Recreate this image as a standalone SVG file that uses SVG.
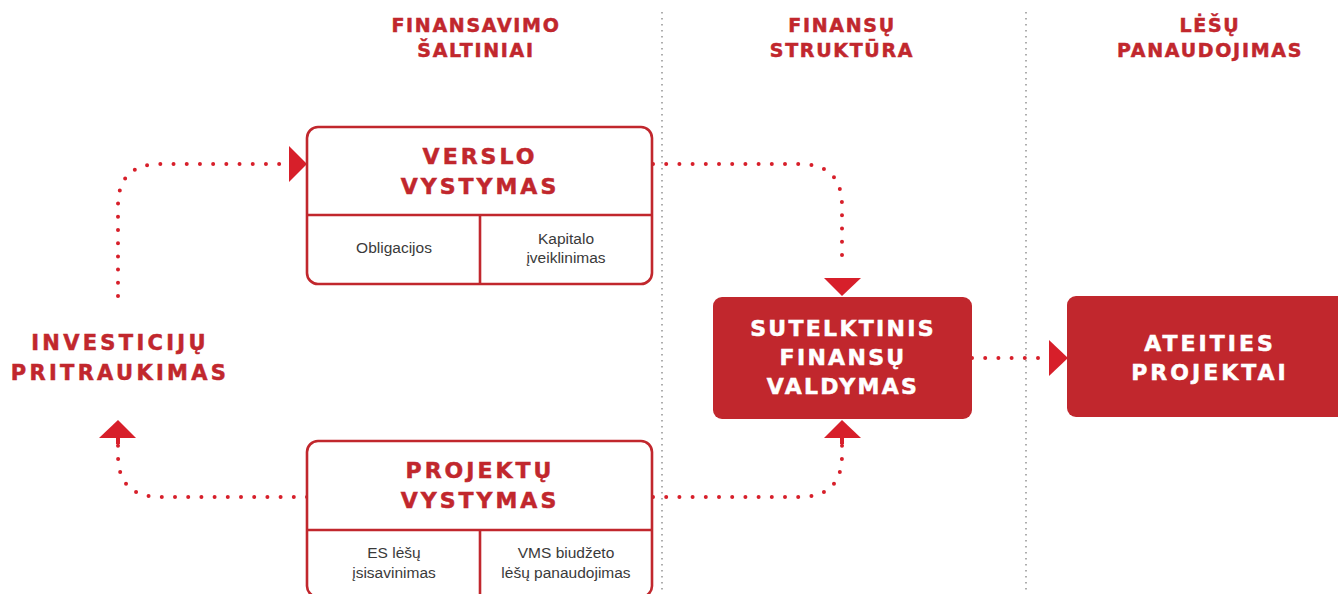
<svg xmlns="http://www.w3.org/2000/svg" width="1338" height="594" viewBox="0 0 1338 594">
<style>
.hd{font-family:"DejaVu Sans","Liberation Sans",sans-serif;font-weight:bold;fill:#c1272d;stroke:#c1272d;stroke-width:0.5;text-anchor:middle}
.h1{font-size:19px;letter-spacing:1.7px}
.bt{font-size:22px;letter-spacing:3px}
.wt{fill:#ffffff;stroke:#ffffff}
.sm{font-family:"Liberation Sans",Arial,sans-serif;font-size:15.5px;fill:#3a3a3a;text-anchor:middle}
.box{fill:#ffffff;stroke:#c1272d;stroke-width:2.6}
.div{stroke:#c1272d;stroke-width:2.6;fill:none}
.solid{fill:#c1272d}
.grid{stroke:#9a9a9a;stroke-width:1.6;stroke-dasharray:1.6 4.4;fill:none}
.dot{fill:none;stroke:#d71f2a;stroke-width:4;stroke-linecap:round;stroke-dasharray:0 13.2}
.ah{fill:#d71f2a}
</style>
<g id="grid">
<line class="grid" x1="662" y1="12" x2="662" y2="594"/>
<line class="grid" x1="1026" y1="12" x2="1026" y2="594"/>
</g>
<g id="headers">
<text class="hd h1" x="476" y="32">FINANSAVIMO</text>
<text class="hd h1" x="476" y="57">ŠALTINIAI</text>
<text class="hd h1" x="842" y="32">FINANSŲ</text>
<text class="hd h1" x="842" y="57">STRUKTŪRA</text>
<text class="hd h1" x="1210" y="32">LĖŠŲ</text>
<text class="hd h1" x="1210" y="57">PANAUDOJIMAS</text>
</g>
<g id="connectors">
<path class="dot" d="M118,296 V206 Q118,164 160,164 H286"/>
<polygon class="ah" points="289,146 307,164 289,182"/>
<path class="dot" d="M653,164 H800 Q842,164 842,206 V268"/>
<polygon class="ah" points="824,278 861,278 842,296"/>
<path class="dot" d="M307,497 H160 Q118,497 118,455 V444"/>
<line x1="118" y1="436" x2="118" y2="444" stroke="#d71f2a" stroke-width="4"/>
<polygon class="ah" points="99,438 136,438 118,420"/>
<path class="dot" d="M653,497 H800 Q842,497 842,455 V444"/>
<line x1="842" y1="436" x2="842" y2="444" stroke="#d71f2a" stroke-width="4"/>
<polygon class="ah" points="824,438 861,438 842,420"/>
<path class="dot" d="M972,358 H1040"/>
<polygon class="ah" points="1049,340 1068,358 1049,376"/>
</g>
<g id="investiciju">
<text class="hd" style="font-size:21px;letter-spacing:3.3px" x="120" y="350">INVESTICIJŲ</text>
<text class="hd" style="font-size:21px;letter-spacing:3.3px" x="120" y="380">PRITRAUKIMAS</text>
</g>
<g id="verslo">
<rect class="box" x="307" y="127" width="345" height="157" rx="11"/>
<line class="div" x1="307" y1="215" x2="652" y2="215"/>
<line class="div" x1="480" y1="215" x2="480" y2="284"/>
<text class="hd bt" x="480" y="164">VERSLO</text>
<text class="hd bt" x="480" y="194">VYSTYMAS</text>
<text class="sm" x="394" y="253">Obligacijos</text>
<text class="sm" x="566" y="244">Kapitalo</text>
<text class="sm" x="566" y="263">įveiklinimas</text>
</g>
<g id="projektu">
<rect class="box" x="307" y="441" width="345" height="156" rx="11"/>
<line class="div" x1="307" y1="530" x2="652" y2="530"/>
<line class="div" x1="480" y1="530" x2="480" y2="594"/>
<text class="hd bt" x="480" y="478">PROJEKTŲ</text>
<text class="hd bt" x="480" y="508">VYSTYMAS</text>
<text class="sm" x="394" y="558">ES lėšų</text>
<text class="sm" x="394" y="578">įsisavinimas</text>
<text class="sm" x="566" y="558">VMS biudžeto</text>
<text class="sm" x="566" y="578">lėšų panaudojimas</text>
</g>
<g id="sutelktinis">
<rect class="solid" x="713" y="297" width="259" height="122" rx="9"/>
<text class="hd bt wt" style="letter-spacing:2.3px" x="843" y="336">SUTELKTINIS</text>
<text class="hd bt wt" style="letter-spacing:2.3px" x="843" y="365">FINANSŲ</text>
<text class="hd bt wt" style="letter-spacing:2.3px" x="843" y="394">VALDYMAS</text>
</g>
<g id="ateities">
<rect class="solid" x="1067" y="296" width="290" height="121" rx="9"/>
<text class="hd bt wt" x="1210" y="351">ATEITIES</text>
<text class="hd bt wt" x="1210" y="380">PROJEKTAI</text>
</g>
</svg>
